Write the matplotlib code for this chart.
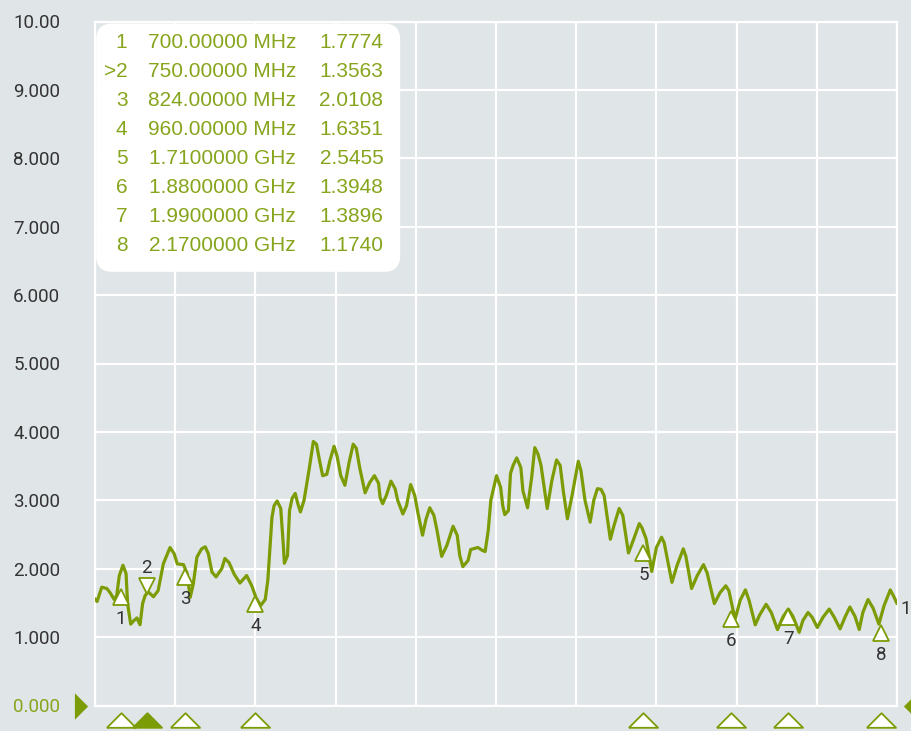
import matplotlib
matplotlib.use("Agg")
import matplotlib.pyplot as plt
from matplotlib.patches import FancyBboxPatch

# ---------------- data ----------------
freq_mhz = [650,654,663,673,680,687,692,697,704,710,
            713,719,725,731,737,742,747,753,763,772,
            782,795,803,809,821,828,834,840,847,856,
            863,869,876,884,895,901,909,919,930,943,
            953,961,970,979,984,992,996,1002,1009,1014,
            1016,1022,1026,1031,1037,1042,1047,1054,1064,1072,
            1078,1084,1090,1098,1104,1112,1118,1125,1133,1141,
            1149,1155,1162,1172,1181,1190,1198,1201,1206,1213,
            1222,1230,1235,1245,1252,1260,1268,1274,1283,1290,
            1297,1305,1311,1320,1330,1342,1350,1355,1361,1371,
            1376,1390,1398,1404,1410,1415,1426,1434,1438,1442,
            1449,1453,1458,1465,1473,1477,1486,1494,1500,1506,
            1512,1524,1533,1542,1549,1555,1563,1572,1584,1589,
            1597,1607,1614,1621,1628,1634,1646,1653,1663,1670,
            1681,1690,1702,1707,1715,1726,1735,1745,1750,1765,
            1775,1787,1792,1803,1814,1826,1833,1847,1858,1869,
            1875,1887,1897,1907,1914,1926,1935,1947,1957,1969,
            1980,1990,1999,2011,2018,2028,2036,2046,2057,2069,
            2078,2090,2100,2109,2119,2127,2134,2144,2154,2165,
            2175,2187,2194,2200]
vswr = [1.56,1.52,1.73,1.71,1.64,1.55,1.61,1.90,2.05,1.93,
        1.49,1.19,1.24,1.28,1.18,1.49,1.61,1.66,1.59,1.68,
        2.07,2.31,2.22,2.07,2.06,1.93,1.58,1.78,2.17,2.29,
        2.32,2.22,1.95,1.88,2.00,2.15,2.09,1.92,1.79,1.90,
        1.75,1.58,1.46,1.55,1.83,2.75,2.92,2.99,2.88,2.34,
        2.08,2.19,2.85,3.03,3.10,2.95,2.83,3.00,3.46,3.86,
        3.82,3.58,3.36,3.38,3.58,3.79,3.64,3.36,3.22,3.55,
        3.82,3.76,3.46,3.11,3.26,3.36,3.25,3.04,2.95,3.07,
        3.28,3.17,3.00,2.80,2.92,3.23,3.07,2.82,2.49,2.73,
        2.89,2.78,2.56,2.18,2.34,2.62,2.49,2.19,2.03,2.12,
        2.28,2.31,2.27,2.25,2.56,3.00,3.36,3.19,2.92,2.79,
        2.85,3.39,3.51,3.62,3.48,3.14,2.89,3.34,3.77,3.68,
        3.51,2.88,3.29,3.59,3.51,3.14,2.73,3.07,3.57,3.44,
        3.00,2.68,3.00,3.17,3.16,3.07,2.43,2.63,2.88,2.78,
        2.23,2.41,2.66,2.60,2.44,1.96,2.31,2.46,2.38,1.80,
        2.05,2.29,2.18,1.71,1.90,2.06,1.94,1.49,1.65,1.75,
        1.68,1.26,1.54,1.69,1.54,1.18,1.33,1.48,1.36,1.11,
        1.30,1.41,1.30,1.07,1.24,1.36,1.29,1.14,1.29,1.41,
        1.30,1.12,1.30,1.44,1.30,1.11,1.36,1.55,1.42,1.19,
        1.46,1.69,1.59,1.49]

marker_freqs = [700, 750, 824, 960, 1710, 1880, 1990, 2170]
marker_pos_vswr = [1.59, 1.75, 1.88, 1.49, 2.23, 1.27, 1.29, 1.06]
marker_ids = ['1', '>2', '3', '4', '5', '6', '7', '8']
marker_freq_text = ['700.00000 MHz', '750.00000 MHz', '824.00000 MHz', '960.00000 MHz',
                    '1.7100000 GHz', '1.8800000 GHz', '1.9900000 GHz', '2.1700000 GHz']
marker_value_text = ['1.7774', '1.3563', '2.0108', '1.6351',
                     '2.5455', '1.3948', '1.3896', '1.1740']
active_marker = 1

y_ticks = [0, 1, 2, 3, 4, 5, 6, 7, 8, 9, 10]
y_tick_labels = ['0.000', '1.000', '2.000', '3.000', '4.000', '5.000',
                 '6.000', '7.000', '8.000', '9.000', '10.00']
x_start, x_stop, x_div = 650, 2200, 155

# ---------------- style ----------------
BG = '#e0e5e8'
GREEN = '#7c9c05'
TEXT_GREEN = '#86a51c'
DARK = '#333333'

fig = plt.figure(figsize=(9.12, 7.31), dpi=100, facecolor=BG)
ax = fig.add_axes([95 / 912, (731 - 705.5) / 731, 802 / 912, 684 / 731])
ax.set_facecolor(BG)
ax.set_xlim(x_start, x_stop)
ax.set_ylim(0, 10)

ax.set_xticks(list(range(x_start, x_stop + 1, x_div)))
ax.set_xticklabels([])
ax.set_yticks(y_ticks)
ax.set_yticklabels(y_tick_labels, family='Roboto', fontsize=13.5, color=DARK)
ax.get_yticklabels()[0].set_color(TEXT_GREEN)
ax.tick_params(axis='both', length=0)
ax.tick_params(axis='y', pad=25)
ax.grid(True, color='white', lw=1.6, zorder=0)
ax.set_axisbelow(True)
for s in ax.spines.values():
    s.set_color('white')
    s.set_linewidth(1.6)

# trace
ax.plot(freq_mhz, vswr, color=GREEN, lw=2.3, solid_joinstyle='round',
        solid_capstyle='round', zorder=3)

# markers on trace
for i, (f, v) in enumerate(zip(marker_freqs, marker_pos_vswr)):
    m = 'v' if i == active_marker else '^'
    ax.plot([f], [v], marker=m, ms=11, mfc='white', mec=GREEN, mew=1.3,
            ls='none', zorder=4)
    dy = 13 if i == active_marker else -16
    ax.annotate(str(i + 1), xy=(f, v), xytext=(0, dy), textcoords='offset points',
                ha='center', va='center', family='Roboto', fontsize=13.5,
                color=DARK, zorder=5)

# trace label at right end
ax.annotate('1', xy=(freq_mhz[-1], vswr[-1]), xytext=(2.5, -4),
            textcoords='offset points', ha='left', va='center',
            family='Roboto', fontsize=13.5, color=DARK, annotation_clip=False)

# marker indicators below axis
flat_tri = [(-1, -0.5), (1, -0.5), (0, 0.5), (-1, -0.5)]
xt = ax.get_xaxis_transform()
for i, f in enumerate(marker_freqs):
    fc = GREEN if i == active_marker else 'white'
    ax.plot([f], [-0.0219], marker=flat_tri, ms=21, mfc=fc, mec=GREEN, mew=1.3,
            ls='none', transform=xt, clip_on=False, zorder=5)

# reference level indicators
yt = ax.get_yaxis_transform()
ax.plot([-0.0175], [0], marker=[(-0.5, -1), (-0.5, 1), (0.5, 0), (-0.5, -1)],
        ms=19, mfc=GREEN, mec=GREEN, mew=0, ls='none', transform=yt, clip_on=False)
ax.plot([1.0165], [0], marker=[(0.5, -1), (0.5, 1), (-0.5, 0), (0.5, -1)],
        ms=19, mfc=GREEN, mec=GREEN, mew=0, ls='none', transform=yt, clip_on=False)

# marker table
box = FancyBboxPatch((0.0015, 0.634), 0.379, 0.363,
                     boxstyle='round,pad=0,rounding_size=0.02',
                     mutation_aspect=802 / 684,
                     transform=ax.transAxes, facecolor='white', edgecolor='none',
                     zorder=6)
ax.add_patch(box)
row0 = (705.5 - 42.3) / 684
step = 29.1 / 684
for i in range(len(marker_ids)):
    y = row0 - i * step
    kw = dict(transform=ax.transAxes, va='center', family='Liberation Sans',
              fontsize=15, color=TEXT_GREEN, zorder=7)
    ax.text(0.0405, y, marker_ids[i], ha='right', **kw)
    ax.text(0.2505, y, marker_freq_text[i], ha='right', **kw)
    ax.text(0.3595, y, marker_value_text[i], ha='right', **kw)

fig.savefig('out.png', dpi=100, facecolor=BG)
